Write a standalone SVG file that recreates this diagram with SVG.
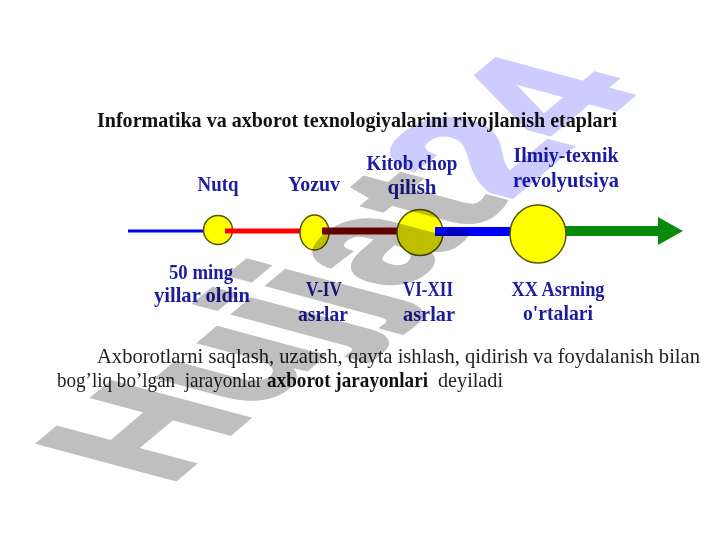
<svg xmlns="http://www.w3.org/2000/svg" width="720" height="540" viewBox="0 0 720 540">
<style>
.title{font-family:"Liberation Serif",serif;font-weight:bold;font-size:22px;fill:#111}
.lbl{font-family:"Liberation Serif",serif;font-weight:bold;font-size:21px;fill:#1c1c9e;text-anchor:middle}
.para{font-family:"Liberation Serif",serif;font-size:21px;fill:#222}
.b{font-weight:bold;fill:#111}
.node{fill:#ffff00;stroke:#555500;stroke-width:1.5}
.wm{font-family:"Liberation Sans",sans-serif;font-weight:bold;font-size:160px;mix-blend-mode:multiply;stroke-width:5;stroke-linejoin:miter}
</style>
<defs>
<marker id="ah" markerUnits="userSpaceOnUse" markerWidth="26" markerHeight="30" refX="0" refY="15" orient="auto">
<path d="M0,1 L25,15 L0,29 Z" fill="#0a8a0a"/>
</marker>
</defs>
<rect width="720" height="540" fill="#ffffff"/>
<text class="title" x="97" y="127" textLength="520" lengthAdjust="spacingAndGlyphs">Informatika va axborot texnologiyalarini rivojlanish etaplari</text>
<g id="connectors">
<line x1="128" y1="231" x2="206" y2="231" stroke="#0000ee" stroke-width="3"/>
</g>
<g id="node-nutq">
<ellipse class="node" cx="218" cy="230" rx="14.5" ry="14.5"/>
<text class="lbl" x="218" y="191" textLength="41" lengthAdjust="spacingAndGlyphs">Nutq</text>
<text class="lbl" x="201" y="279" textLength="64" lengthAdjust="spacingAndGlyphs">50 ming</text>
<text class="lbl" x="202" y="302" textLength="96" lengthAdjust="spacingAndGlyphs">yillar oldin</text>
</g>
<g id="connectors2">
<line x1="225" y1="231" x2="302" y2="231" stroke="#ff0000" stroke-width="5"/>
</g>
<g id="node-yozuv">
<ellipse class="node" cx="314.5" cy="232.5" rx="14.5" ry="17.5"/>
<text class="lbl" x="314" y="191" textLength="52" lengthAdjust="spacingAndGlyphs">Yozuv</text>
<text class="lbl" x="324" y="296" textLength="36" lengthAdjust="spacingAndGlyphs">V-IV</text>
<text class="lbl" x="323" y="321" textLength="50" lengthAdjust="spacingAndGlyphs">asrlar</text>
</g>
<g id="connectors3">
<line x1="322" y1="231" x2="400" y2="231" stroke="#800000" stroke-width="7"/>
</g>
<g id="node-kitob">
<ellipse class="node" cx="420" cy="232.5" rx="23" ry="23"/>
<text class="lbl" x="412" y="170" textLength="91" lengthAdjust="spacingAndGlyphs">Kitob chop</text>
<text class="lbl" x="412" y="194" textLength="49" lengthAdjust="spacingAndGlyphs">qilish</text>
<text class="lbl" x="428" y="296" textLength="50" lengthAdjust="spacingAndGlyphs">VI-XII</text>
<text class="lbl" x="429" y="321" textLength="52" lengthAdjust="spacingAndGlyphs">asrlar</text>
</g>
<g id="connectors4">
<line x1="435" y1="231.5" x2="514" y2="231.5" stroke="#0000ff" stroke-width="9"/>
<line x1="564" y1="231" x2="658" y2="231" stroke="#0a8a0a" stroke-width="10" marker-end="url(#ah)"/>
</g>
<g id="node-ilmiy">
<ellipse class="node" cx="538" cy="234" rx="28" ry="29"/>
<text class="lbl" x="566" y="162" textLength="105" lengthAdjust="spacingAndGlyphs">Ilmiy-texnik</text>
<text class="lbl" x="566" y="187" textLength="106" lengthAdjust="spacingAndGlyphs">revolyutsiya</text>
<text class="lbl" x="558" y="296" textLength="93" lengthAdjust="spacingAndGlyphs">XX Asrning</text>
<text class="lbl" x="558" y="320" textLength="70" lengthAdjust="spacingAndGlyphs">o'rtalari</text>
</g>
<g id="paragraph">
<text class="para" x="97" y="363" textLength="603" lengthAdjust="spacingAndGlyphs">Axborotlarni saqlash, uzatish, qayta ishlash, qidirish va foydalanish bilan</text>
<text class="para" x="57" y="387" xml:space="preserve" textLength="205" lengthAdjust="spacingAndGlyphs">bog’liq bo’lgan  jarayonlar</text>
<text class="para b" x="267" y="387" textLength="161" lengthAdjust="spacingAndGlyphs">axborot jarayonlari</text>
<text class="para" x="438" y="387" textLength="65" lengthAdjust="spacingAndGlyphs">deyiladi</text>
</g>
<text class="wm" transform="matrix(0.766,-0.643,1.227,0.329,167,486)"><tspan fill="#bfbfbf" stroke="#bfbfbf">Hujjat</tspan><tspan fill="#ccccff" stroke="#ccccff">24</tspan></text>
</svg>
